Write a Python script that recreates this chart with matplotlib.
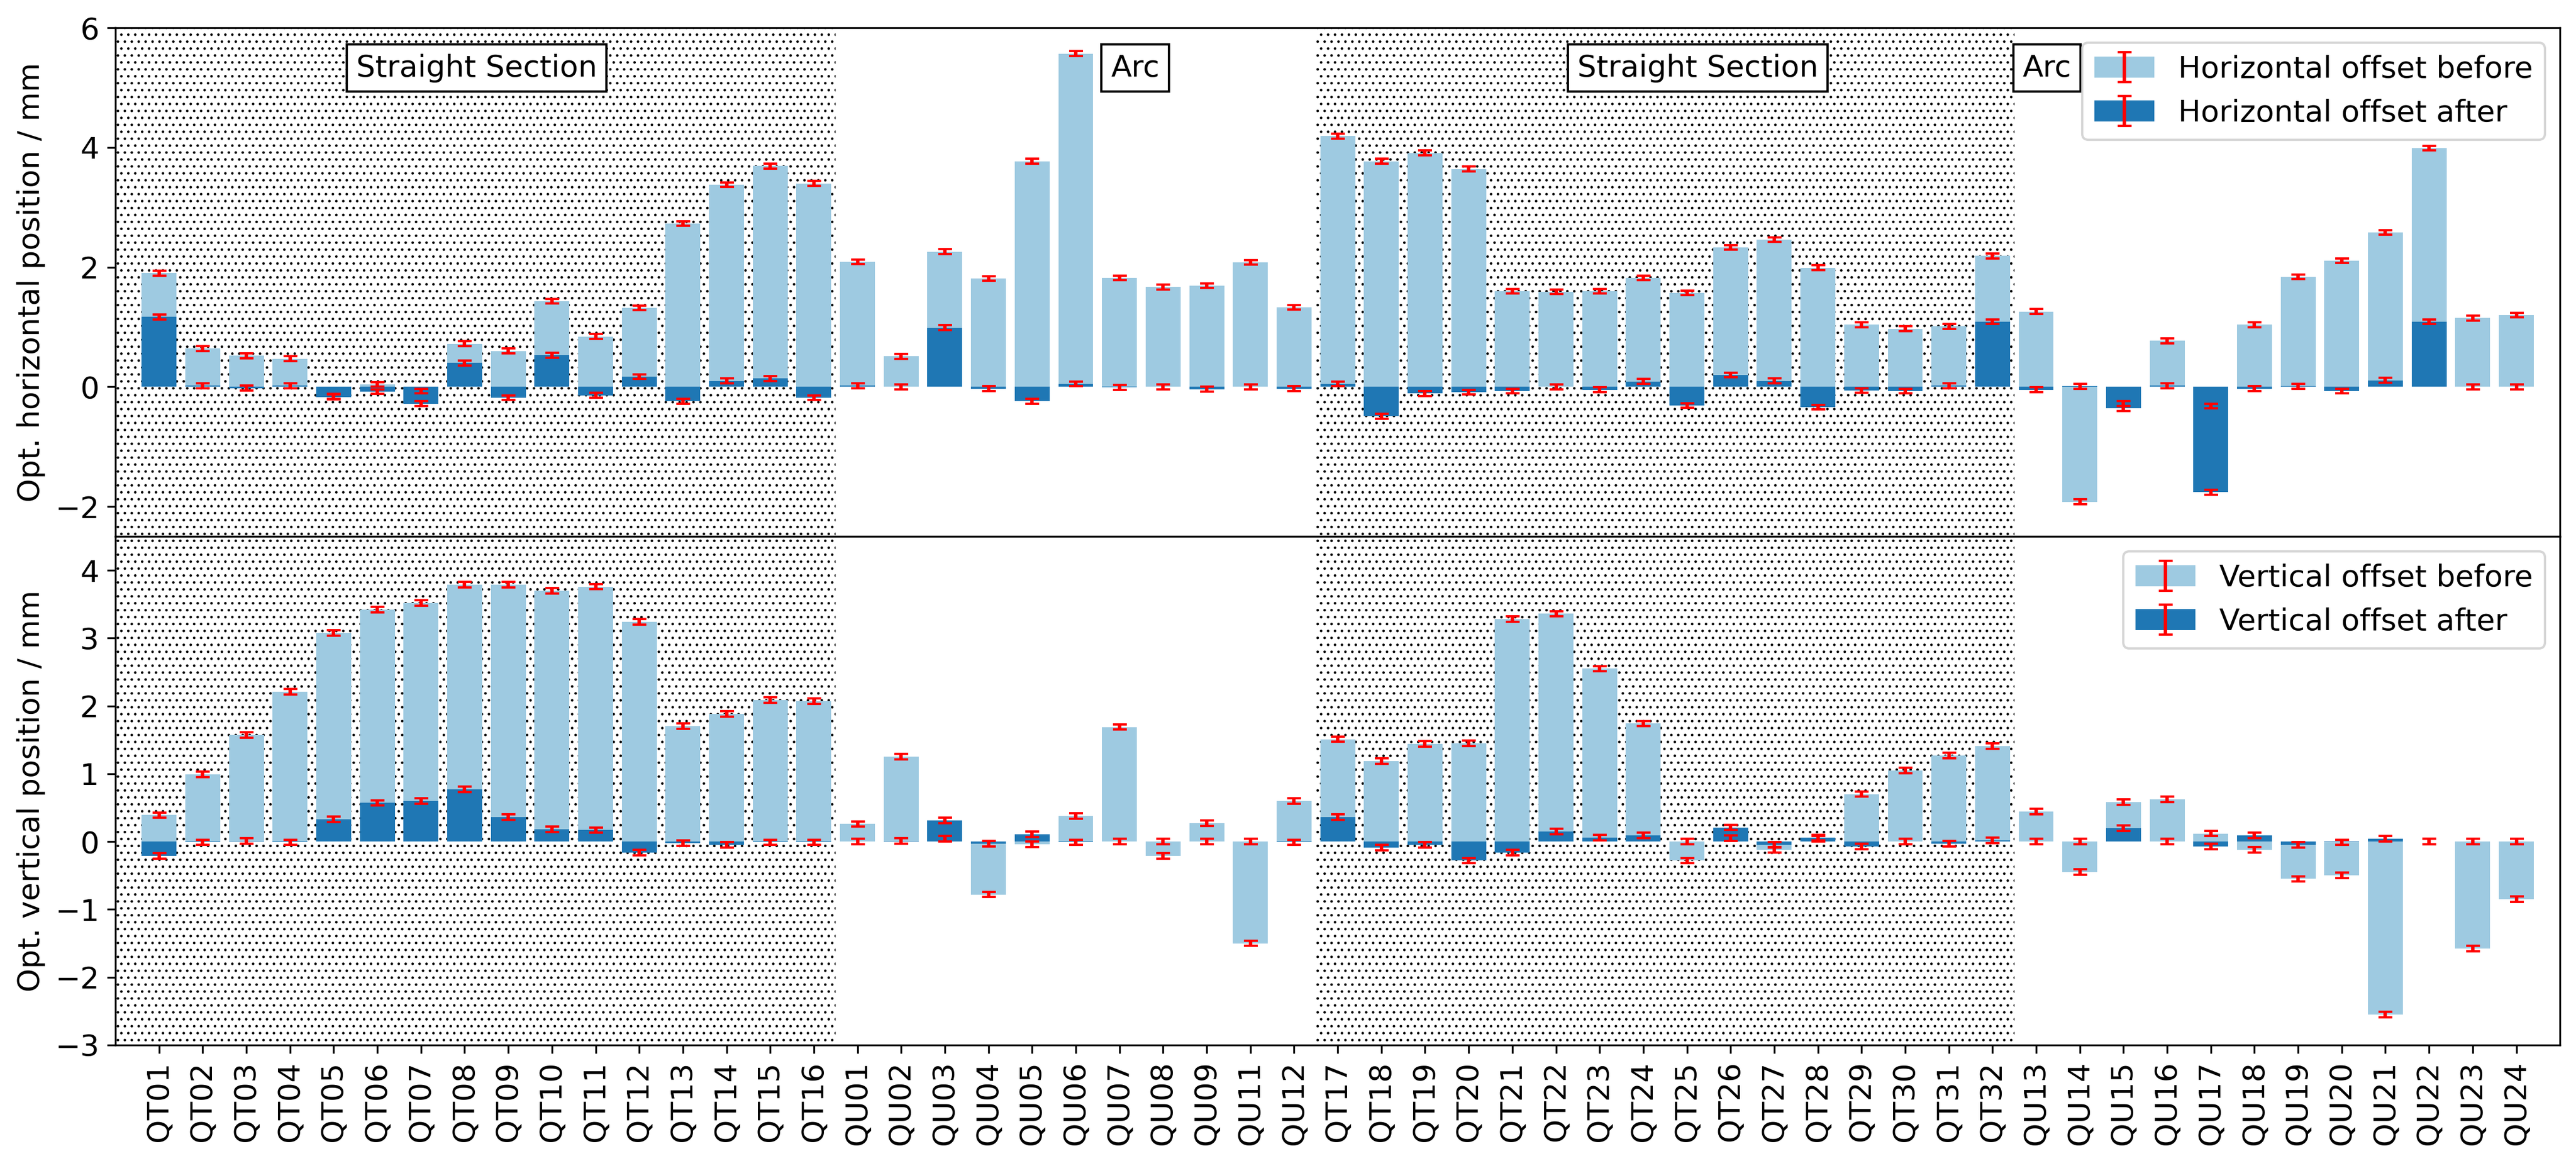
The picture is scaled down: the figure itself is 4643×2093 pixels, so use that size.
import matplotlib
matplotlib.use("Agg")
import matplotlib.pyplot as plt
import numpy as np

plt.rcParams["font.size"] = 13
plt.rcParams["hatch.linewidth"] = 0.5

labels = (["QT%02d" % i for i in range(1, 17)]
          + ["QU%02d" % i for i in [1, 2, 3, 4, 5, 6, 7, 8, 9, 11, 12]]
          + ["QT%02d" % i for i in range(17, 33)]
          + ["QU%02d" % i for i in range(13, 25)])

h_before = [1.90, 0.64, 0.52, 0.47, -0.16, 0.04, -0.07, 0.72, 0.60, 1.43, 0.84, 1.32, 2.73, 3.38, 3.69, 3.40,
            2.09, 0.51, 2.26, 1.81, 3.77, 5.57, 1.82, 1.67, 1.69, 2.08, 1.33,
            4.19, 3.77, 3.91, 3.64, 1.60, 1.59, 1.60, 1.82, 1.57, 2.33, 2.46, 1.99, 1.04, 0.97, 1.01, 2.19,
            1.26, -1.92, -0.28, 0.77, -0.32, 1.04, 1.84, 2.11, 2.58, 3.99, 1.15, 1.20]
h_after = [1.17, 0.02, -0.02, 0.02, -0.17, -0.08, -0.28, 0.40, -0.18, 0.53, -0.14, 0.17, -0.24, 0.10, 0.14, -0.18,
           0.02, 0.00, 0.99, -0.03, -0.24, 0.05, -0.01, 0.00, -0.04, 0.00, -0.03,
           0.05, -0.49, -0.11, -0.09, -0.07, 0.00, -0.05, 0.09, -0.31, 0.20, 0.10, -0.34, -0.06, -0.07, 0.02, 1.09,
           -0.05, 0.01, -0.36, 0.02, -1.76, -0.03, 0.01, -0.07, 0.11, 1.09, 0.00, 0.00]
v_before = [0.39, 0.99, 1.57, 2.21, 3.08, 3.42, 3.52, 3.79, 3.79, 3.70, 3.76, 3.24, 1.70, 1.88, 2.09, 2.07,
            0.26, 1.25, 0.04, -0.78, -0.04, 0.38, 1.69, -0.21, 0.27, -1.50, 0.60,
            1.51, 1.19, 1.44, 1.45, 3.28, 3.36, 2.55, 1.74, -0.28, 0.05, -0.12, 0.04, 0.70, 1.05, 1.27, 1.41,
            0.44, -0.45, 0.58, 0.62, 0.12, -0.12, -0.55, -0.50, -2.55, 0.00, -1.58, -0.85]
v_after = [-0.21, -0.01, 0.01, -0.01, 0.33, 0.57, 0.60, 0.77, 0.36, 0.18, 0.17, -0.16, -0.02, -0.05, -0.01, -0.01,
           0.00, 0.01, 0.31, -0.03, 0.11, -0.01, 0.00, 0.00, 0.00, 0.00, -0.01,
           0.36, -0.09, -0.05, -0.28, -0.16, 0.15, 0.06, 0.09, 0.00, 0.21, -0.05, 0.06, -0.07, 0.00, -0.03, 0.02,
           0.00, 0.00, 0.20, 0.00, -0.07, 0.09, -0.05, -0.01, 0.04, 0.00, 0.00, 0.00]
err = 0.04

# straight sections (hatched) and the section labels
straight_spans = [(-1, 15.5), (26.5, 42.5)]
section_names = ["Straight Section", "Arc", "Straight Section", "Arc"]
section_x = [7.27, 22.36, 35.25, 43.25]

light = "#9ecae1"
dark = "#1f77b4"
x = np.arange(len(labels))

fig, (ax1, ax2) = plt.subplots(2, 1, sharex=True, figsize=(4643 / 300, 2093 / 300), dpi=300)
fig.subplots_adjust(left=0.0448, right=0.9938, top=0.976, bottom=0.0999, hspace=0)

ekw = dict(elinewidth=1.5, capthick=1)


def panel(ax, before, after, name, ylab):
    for a, b in straight_spans:
        ax.axvspan(a, b, facecolor="none", edgecolor="black", hatch="....", linewidth=0, zorder=0)
    b1 = ax.bar(x, before, color=light, yerr=err, ecolor="red", capsize=3, error_kw=ekw)
    b2 = ax.bar(x, after, color=dark, yerr=err, ecolor="red", capsize=3, error_kw=ekw)
    ax.legend([(b1, b1.errorbar), (b2, b2.errorbar)],
              [name + " offset before", name + " offset after"], loc="upper right")
    ax.set_ylabel(ylab)


panel(ax1, h_before, h_after, "Horizontal", "Opt. horizontal position / mm")
panel(ax2, v_before, v_after, "Vertical", "Opt. vertical position / mm")

for name, xs in zip(section_names, section_x):
    ax1.text(xs, 5.33, name, ha="center", va="center",
             bbox=dict(facecolor="white", edgecolor="black"))

ax1.set_ylim(-2.5, 6)
ax1.set_yticks([-2, 0, 2, 4, 6])
ax2.set_ylim(-3, 4.5)
ax2.set_yticks([-3, -2, -1, 0, 1, 2, 3, 4])
ax2.set_xlim(-1, 55)
ax2.set_xticks(x)
ax2.set_xticklabels(labels, rotation=90)

fig.savefig("out.png", dpi=300)
